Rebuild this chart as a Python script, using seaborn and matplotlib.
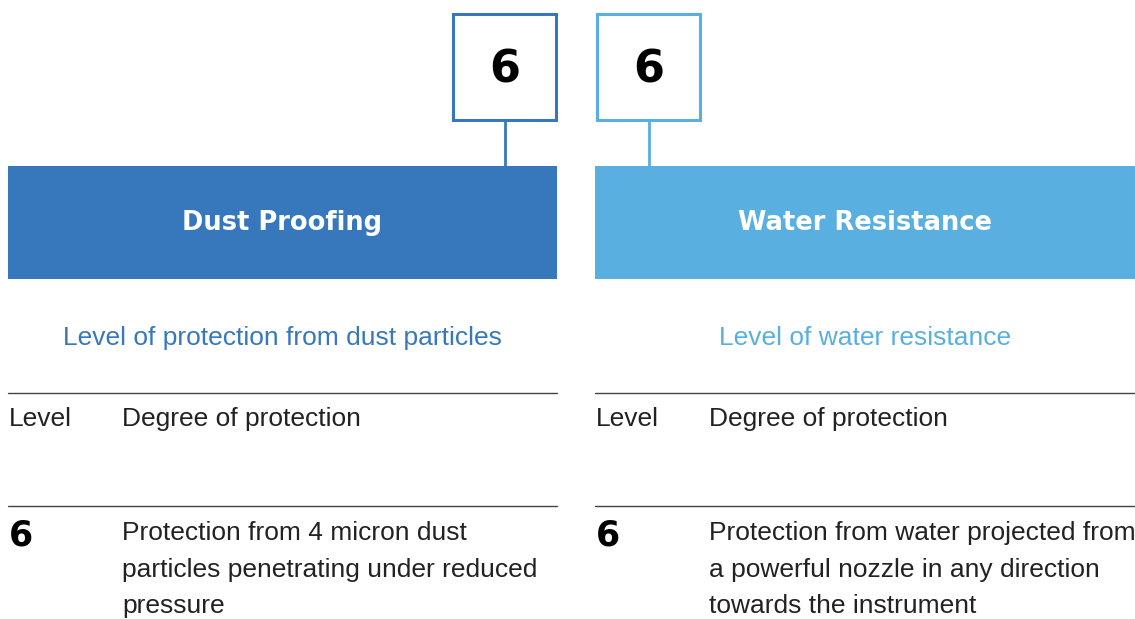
import matplotlib
matplotlib.use("Agg")
import matplotlib.pyplot as plt
import seaborn as sns
from matplotlib.patches import Rectangle

# ---- data ----
panel_titles = ["Dust Proofing", "Water Resistance"]
panel_levels = ["6", "6"]
panel_subtitles = ["Level of protection from dust particles", "Level of water resistance"]
header_labels = ["Level", "Degree of protection"]
row_levels = ["6", "6"]
row_descriptions = [
    "Protection from 4 micron dust\nparticles penetrating under reduced\npressure",
    "Protection from water projected from\na powerful nozzle in any direction\ntowards the instrument",
]
panel_colors = ["#3778BD", "#5AAFE1"]

sns.set_theme(style="white")
plt.rcParams["font.family"] = ["Liberation Sans", "DejaVu Sans"]

W, H = 1135, 619
fig = plt.figure(figsize=(W / 100, H / 100), dpi=100)
ax = fig.add_axes([0, 0, 1, 1])
ax.set_xlim(0, W)
ax.set_ylim(H, 0)
ax.axis("off")

# layout (pixels)
panel_x = [(8, 557), (595, 1135)]
box_x = [453, 597]
box_w, box_top, box_bot = 103, 14, 120
banner_top, banner_bot = 166, 279
text_col = "#222222"

for i in range(2):
    x0, x1 = panel_x[i]
    col = panel_colors[i]
    # level box
    bx = box_x[i]
    ax.add_patch(Rectangle((bx, box_top), box_w, box_bot - box_top, fill=False,
                           edgecolor=col, linewidth=2.2))
    ax.text(bx + box_w / 2, (box_top + box_bot) / 2 + 3, panel_levels[i],
            ha="center", va="center", fontsize=32, fontweight="bold",
            family="DejaVu Sans", color="black")
    # connector
    ax.plot([bx + box_w / 2, bx + box_w / 2], [box_bot, banner_top], color=col, lw=2)
    # banner
    ax.add_patch(Rectangle((x0, banner_top), x1 - x0, banner_bot - banner_top,
                           facecolor=col, edgecolor="none"))
    ax.text((x0 + x1) / 2, (banner_top + banner_bot) / 2 + 1, panel_titles[i],
            ha="center", va="center", fontsize=18.5, fontweight="bold",
            family="DejaVu Sans", color="white")
    # subtitle
    ax.text((x0 + x1) / 2, 338, panel_subtitles[i], ha="center", va="center",
            fontsize=19, color=col)
    # table lines
    for yy in (393, 506):
        ax.plot([x0, x1], [yy, yy], color="#444444", lw=1)
    # header
    ax.text(x0 + 1, 419, header_labels[0], ha="left", va="center", fontsize=19,
            color=text_col)
    ax.text(x0 + 114, 419, header_labels[1], ha="left", va="center", fontsize=19,
            color=text_col)
    # row
    ax.text(x0 + 1, 536, row_levels[i], ha="left", va="center", fontsize=25,
            fontweight="bold", family="DejaVu Sans", color="black")
    ax.text(x0 + 114, 521, row_descriptions[i], ha="left", va="top", fontsize=19,
            color=text_col, linespacing=1.66)

fig.savefig("out.png", dpi=100)
